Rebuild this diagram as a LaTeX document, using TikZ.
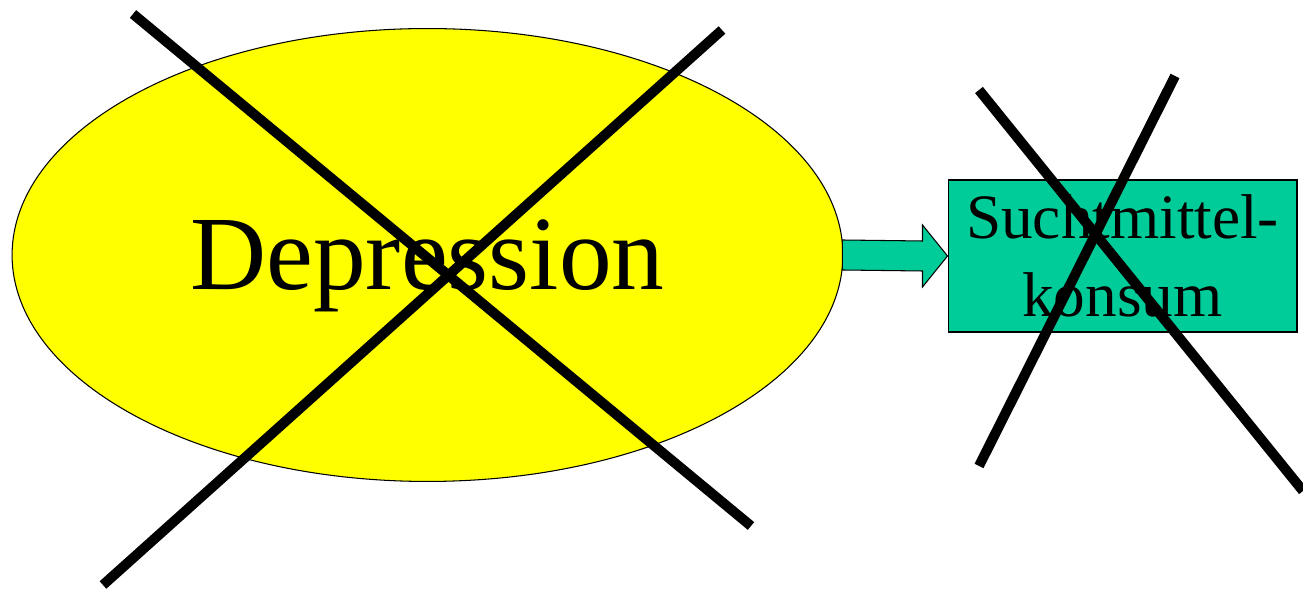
\documentclass[tikz,border=0pt]{standalone}
\usepackage{fontspec}
\setmainfont{Liberation Serif}
\usetikzlibrary{shapes.geometric,calc}
\definecolor{depyellow}{RGB}{255,255,0}
\definecolor{suchtgreen}{RGB}{0,204,153}

\begin{document}
\begin{tikzpicture}[
      x=0.02cm, y=-0.02cm,
      oval/.style={draw, ellipse, fill=depyellow, inner sep=0pt, line width=0.6pt,
                   minimum width=16.62cm, minimum height=9.06cm, text depth=0pt,
                   font=\fontsize{60}{72}\selectfont},
      box/.style={draw, rectangle, fill=suchtgreen, inner sep=0pt, line width=0.6pt,
                  align=center, minimum width=6.98cm, minimum height=3.04cm,
                  font=\fontsize{36}{44}\selectfont},
      blockarrow/.style={draw, fill=suchtgreen, line width=0.6pt},
      strike/.style={draw=black, line width=0.2cm},
    ]
    \useasboundingbox (0,0) rectangle (1303,590);

    \node[oval] (dep) at (427.5,255) {Depression};
    \node[box] (sucht) at (1122.5,256) {Suchtmittel-\\konsum};

    % block arrow between the two
    \draw[blockarrow] ($(dep.east)+(-1,-15)$) -- ($(sucht.west)+(-25,-15)$)
      -- ++(0,-16) -- (sucht.west) -- ++(-25,31) -- ++(0,-16)
      -- ($(dep.east)+(-1,15)$) -- cycle;

    % crossed out
    \draw[strike] (133,14) -- (751,526);
    \draw[strike] (722,30) -- (103,585);
    \draw[strike] (979,90) -- (1303,491);
    \draw[strike] (1175,76) -- (979,466);
  \end{tikzpicture}
\end{document}
